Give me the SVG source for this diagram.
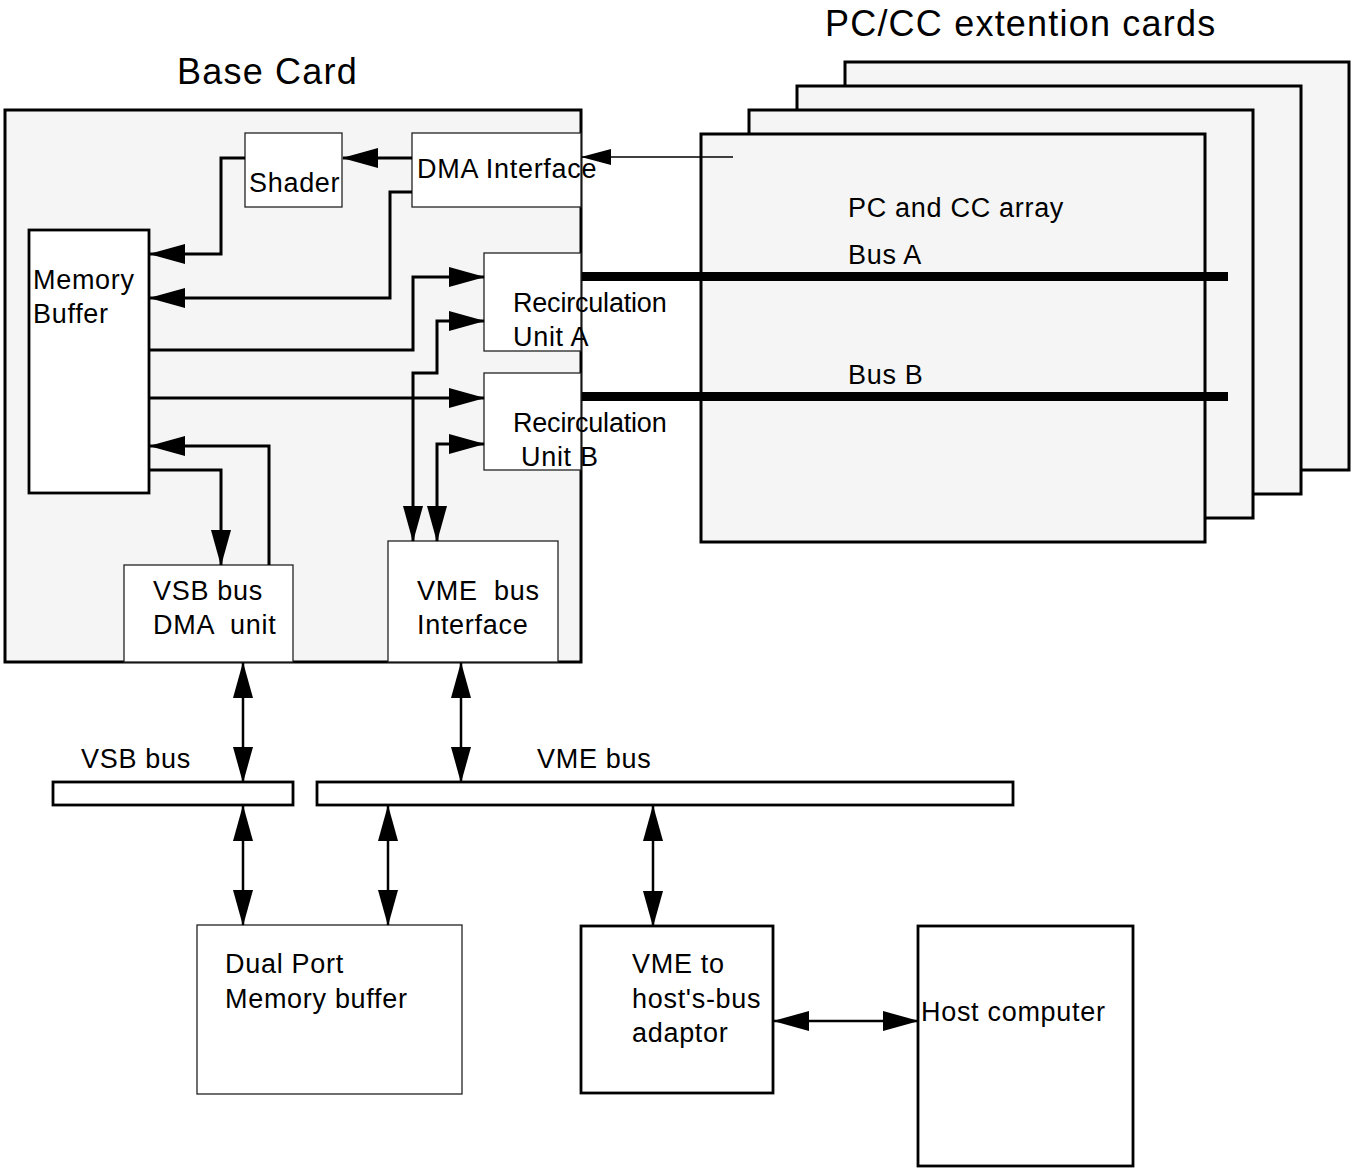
<svg xmlns="http://www.w3.org/2000/svg" width="1358" height="1168" viewBox="0 0 1358 1168">
<style>
text{font-family:"Liberation Sans",Arial,sans-serif;font-size:27px;fill:#000;letter-spacing:0.7px}
.title{font-size:36px;letter-spacing:1.2px}
.tight{letter-spacing:-0.2px}
.card{fill:#f5f5f5;stroke:#000;stroke-width:3}
.thin{fill:#fff;stroke:#222;stroke-width:1.3}
.thick{fill:#fff;stroke:#000;stroke-width:2.8}
.conn{fill:none;stroke:#000;stroke-width:3}
.bi{fill:none;stroke:#000;stroke-width:2.5}
.bus{stroke:#000;stroke-width:9}
</style>
<defs>
<marker id="ah" markerUnits="userSpaceOnUse" markerWidth="36" markerHeight="20" viewBox="0 0 36 20" refX="35" refY="10" orient="auto-start-reverse"><path d="M0,0 L36,10 L0,20 z" fill="#000"/></marker>
<marker id="ahs" markerUnits="userSpaceOnUse" markerWidth="30" markerHeight="16" viewBox="0 0 30 16" refX="29" refY="8" orient="auto-start-reverse"><path d="M0,0 L30,8 L0,16 z" fill="#000"/></marker>
</defs>

<g id="pccc-cards">
<rect class="card" x="845" y="62" width="504" height="408"/>
<rect class="card" x="797" y="86" width="504" height="408"/>
<rect class="card" x="749" y="110" width="504" height="408"/>
<rect class="card" x="701" y="134" width="504" height="408"/>
<text class="title" x="825" y="36">PC/CC extention cards</text>
<text x="848" y="217">PC and CC array</text>
</g>

<g id="base-card">
<rect class="card" x="5" y="110" width="576" height="552"/>
<text class="title" x="177" y="84">Base Card</text>
</g>

<g id="bus-a">
<line class="bus" x1="581" y1="276.5" x2="1228" y2="276.5"/>
<text x="848" y="264">Bus A</text>
</g>
<g id="bus-b">
<line class="bus" x1="581" y1="396.5" x2="1228" y2="396.5"/>
<text x="848" y="384">Bus B</text>
</g>

<g id="shader">
<rect class="thin" x="245" y="133" width="97" height="74"/>
<text x="249" y="192">Shader</text>
</g>
<g id="dma-interface">
<rect class="thin" x="412" y="133" width="169" height="74"/>
<text x="417" y="178">DMA Interface</text>
</g>
<g id="memory-buffer">
<rect class="thick" x="29" y="230" width="120" height="263"/>
<text x="33" y="289">Memory</text>
<text x="33" y="323">Buffer</text>
</g>
<g id="recirc-a">
<rect class="thin" x="484" y="253" width="97" height="98"/>
<text class="tight" x="513" y="312">Recirculation</text>
<text x="513" y="346">Unit A</text>
</g>
<g id="recirc-b">
<rect class="thin" x="484" y="373" width="97" height="97"/>
<text class="tight" x="513" y="432">Recirculation</text>
<text x="521" y="466">Unit B</text>
</g>
<g id="vsb-dma">
<rect class="thin" x="124" y="565" width="169" height="97"/>
<text x="153" y="600">VSB bus</text>
<text x="153" y="634" xml:space="preserve">DMA  unit</text>
</g>
<g id="vme-interface">
<rect class="thin" x="388" y="541" width="170" height="121"/>
<text x="417" y="600" xml:space="preserve">VME  bus</text>
<text x="417" y="634">Interface</text>
</g>

<g id="vsb-bus">
<rect class="thick" x="53" y="782" width="240" height="23" stroke-width="2.2"/>
<text x="81" y="768">VSB bus</text>
</g>
<g id="vme-bus">
<rect class="thick" x="317" y="782" width="696" height="23" stroke-width="2.2"/>
<text x="537" y="768">VME bus</text>
</g>
<g id="dual-port">
<rect class="thin" x="197" y="925" width="265" height="169"/>
<text x="225" y="973">Dual Port</text>
<text x="225" y="1008">Memory buffer</text>
</g>
<g id="adaptor">
<rect class="thick" x="581" y="926" width="192" height="167"/>
<text x="632" y="973">VME to</text>
<text x="632" y="1008">host's-bus</text>
<text x="632" y="1042">adaptor</text>
</g>
<g id="host">
<rect class="thick" x="918" y="926" width="215" height="240"/>
<text x="921" y="1021">Host computer</text>
</g>

<g id="connectors">
<path class="conn" d="M412,158 H343" marker-end="url(#ah)"/>
<path class="conn" d="M245,158 H221 V254 H150" marker-end="url(#ah)"/>
<path class="conn" d="M412,192 H390 V298 H150" marker-end="url(#ah)"/>
<path class="conn" d="M149,350 H413 V277 H484" marker-end="url(#ah)"/>
<path class="conn" d="M413,541 V373 H437 V321 H484" marker-start="url(#ah)" marker-end="url(#ah)"/>
<path class="conn" d="M149,398 H484" marker-end="url(#ah)"/>
<path class="conn" d="M437,541 V444 H484" marker-start="url(#ah)" marker-end="url(#ah)"/>
<path class="conn" d="M269,565 V446 H150" marker-end="url(#ah)"/>
<path class="conn" d="M149,470 H221 V565" marker-end="url(#ah)"/>
<path fill="none" stroke="#000" stroke-width="1.3" d="M733,157 H582" marker-end="url(#ahs)"/>
<path class="bi" d="M243,663 V782" marker-start="url(#ah)" marker-end="url(#ah)"/>
<path class="bi" d="M461,663 V782" marker-start="url(#ah)" marker-end="url(#ah)"/>
<path class="bi" d="M243,806 V925" marker-start="url(#ah)" marker-end="url(#ah)"/>
<path class="bi" d="M388,806 V925" marker-start="url(#ah)" marker-end="url(#ah)"/>
<path class="bi" d="M653,806 V926" marker-start="url(#ah)" marker-end="url(#ah)"/>
<path class="bi" d="M774,1021 H918" marker-start="url(#ah)" marker-end="url(#ah)"/>
</g>
</svg>
